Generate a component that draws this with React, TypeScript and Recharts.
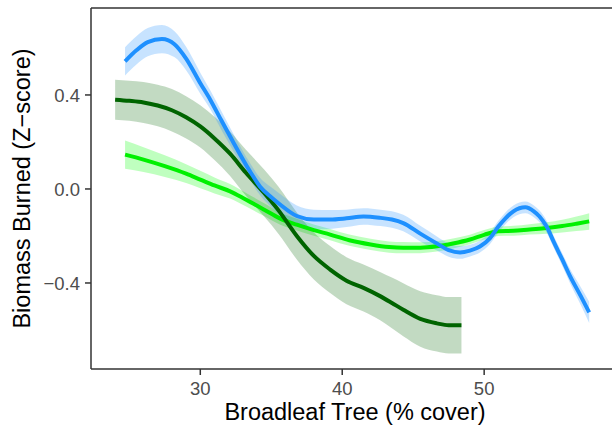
import React from "react";
import { ComposedChart, Area, Line, XAxis, YAxis, Label, ReferenceLine } from "recharts";

// Blue series (smoothed fit) — x, fit, ribbon half-width
const blueX = [24.7, 25.5, 26.3, 27.3, 28.2, 29.0, 30.0, 30.7, 31.5, 32.35, 33.5, 34.2, 35.0, 35.6, 36.8, 38.0, 39.15, 40.3, 41.5, 42.7, 43.5, 44.3, 45.5, 46.67, 47.5, 48.3, 49.0, 49.7, 50.4, 51.0, 51.5, 52.06, 52.9, 53.5, 53.9, 54.4, 54.9, 55.5, 56.06, 56.8, 57.4];
const blueY = [0.543, 0.59, 0.625, 0.638, 0.615, 0.555, 0.45, 0.38, 0.29, 0.196, 0.075, 0.011, -0.035, -0.065, -0.115, -0.13, -0.13, -0.125, -0.117, -0.123, -0.13, -0.145, -0.19, -0.232, -0.26, -0.27, -0.262, -0.245, -0.21, -0.16, -0.125, -0.095, -0.078, -0.095, -0.117, -0.16, -0.225, -0.3, -0.372, -0.455, -0.525];
const blueSE = [0.06, 0.06, 0.06, 0.06, 0.055, 0.05, 0.045, 0.04, 0.04, 0.037, 0.035, 0.037, 0.042, 0.045, 0.045, 0.042, 0.04, 0.037, 0.035, 0.035, 0.035, 0.035, 0.033, 0.03, 0.028, 0.027, 0.025, 0.025, 0.025, 0.025, 0.025, 0.025, 0.025, 0.025, 0.025, 0.025, 0.025, 0.027, 0.03, 0.038, 0.045];

// Dark green series
const darkX = [24.0, 25.0, 26.0, 27.0, 28.0, 29.0, 30.0, 31.0, 32.1, 33.2, 34.5, 35.5, 36.8, 38.0, 39.15, 40.3, 41.5, 42.7, 43.5, 44.3, 45.5, 46.67, 47.5, 48.4];
const darkY = [0.38, 0.375, 0.368, 0.355, 0.335, 0.305, 0.266, 0.215, 0.15, 0.07, -0.017, -0.09, -0.2, -0.285, -0.343, -0.39, -0.421, -0.457, -0.485, -0.514, -0.553, -0.572, -0.58, -0.58];
const darkSE = [0.085, 0.085, 0.087, 0.088, 0.09, 0.09, 0.09, 0.092, 0.095, 0.098, 0.1, 0.1, 0.1, 0.1, 0.1, 0.1, 0.1, 0.103, 0.108, 0.113, 0.118, 0.12, 0.12, 0.12];

// Lime series
const limeX = [24.7, 26.0, 27.5, 29.0, 30.0, 31.0, 32.1, 33.2, 34.5, 35.6, 36.8, 38.0, 39.15, 40.5, 42.0, 43.3, 44.3, 45.5, 46.67, 47.8, 49.0, 50.0, 51.0, 52.06, 53.2, 54.4, 55.5, 56.5, 57.4];
const limeY = [0.146, 0.125, 0.097, 0.065, 0.04, 0.015, -0.01, -0.045, -0.088, -0.125, -0.152, -0.175, -0.194, -0.218, -0.236, -0.247, -0.25, -0.25, -0.244, -0.232, -0.215, -0.195, -0.18, -0.178, -0.172, -0.166, -0.158, -0.148, -0.138];
const limeSE = [0.06, 0.053, 0.046, 0.04, 0.037, 0.034, 0.031, 0.029, 0.027, 0.026, 0.025, 0.024, 0.024, 0.024, 0.024, 0.024, 0.024, 0.023, 0.022, 0.021, 0.02, 0.02, 0.02, 0.021, 0.022, 0.024, 0.027, 0.031, 0.035];

const xTicks = [30, 40, 50];
const yTicks = [-0.4, 0, 0.4];
const xDomain = [22.3, 59.5];
const yDomain = [-0.766, 0.77];

const xTitle = "Broadleaf Tree (% cover)";
const yTitle = "Biomass Burned (Z\u2212score)";

const build = (xs: number[], ys: number[], se: number[]) =>
  xs.map((x, i) => ({ x, y: ys[i], band: [ys[i] - se[i], ys[i] + se[i]] }));

const blueData = build(blueX, blueY, blueSE);
const darkData = build(darkX, darkY, darkSE);
const limeData = build(limeX, limeY, limeSE);

const FONT = "'Liberation Sans', Arial, Helvetica, sans-serif";

const fmtY = (v: number) => {
  if (v === 0) return "0.0";
  const s = Math.abs(v).toFixed(1);
  return v < 0 ? "\u2212" + s : s;
};

export default function App() {
  return (
    <div style={{ position: "absolute", left: 0, top: 0, width: 612, height: 437, overflow: "hidden", background: "#fff" }}>
      <ComposedChart width={640} height={437} margin={{ top: 8, right: 21, left: 0, bottom: 0 }}>
        <XAxis
          dataKey="x"
          type="number"
          domain={xDomain}
          ticks={xTicks}
          allowDataOverflow
          height={68}
          tickSize={6}
          tickMargin={7}
          axisLine={{ stroke: "#333333", strokeWidth: 1.5 }}
          tickLine={{ stroke: "#333333", strokeWidth: 1.5 }}
          tick={{ fill: "#4D4D4D", fontSize: 18.5, fontFamily: FONT }}
        >
          <Label
            value={xTitle}
            position="insideBottom"
            offset={17}
            style={{ fill: "#000", fontSize: 23.5, fontFamily: FONT, textAnchor: "middle" }}
          />
        </XAxis>
        <YAxis
          type="number"
          domain={yDomain}
          ticks={yTicks}
          allowDataOverflow
          width={91}
          tickSize={6}
          tickMargin={5}
          tickFormatter={fmtY}
          axisLine={{ stroke: "#333333", strokeWidth: 1.5 }}
          tickLine={{ stroke: "#333333", strokeWidth: 1.5 }}
          tick={{ fill: "#4D4D4D", fontSize: 18.5, fontFamily: FONT }}
        >
          <Label
            value={yTitle}
            angle={-90}
            position="insideLeft"
            offset={22}
            style={{ fill: "#000", fontSize: 23.5, fontFamily: FONT, textAnchor: "middle" }}
          />
        </YAxis>

        <ReferenceLine y={yDomain[1]} stroke="#333333" strokeWidth={1.5} />

        <Area data={limeData} dataKey="band" type="monotone" stroke="none" fill="#00FF00" fillOpacity={0.25} isAnimationActive={false} activeDot={false} />
        <Line data={limeData} dataKey="y" type="monotone" stroke="#00F000" strokeWidth={4} dot={false} activeDot={false} isAnimationActive={false} />

        <Area data={darkData} dataKey="band" type="monotone" stroke="none" fill="#006400" fillOpacity={0.24} isAnimationActive={false} activeDot={false} />
        <Line data={darkData} dataKey="y" type="monotone" stroke="#006400" strokeWidth={4} dot={false} activeDot={false} isAnimationActive={false} />

        <Area data={blueData} dataKey="band" type="monotone" stroke="none" fill="#1E90FF" fillOpacity={0.25} isAnimationActive={false} activeDot={false} />
        <Line data={blueData} dataKey="y" type="monotone" stroke="#1E90FF" strokeWidth={4} dot={false} activeDot={false} isAnimationActive={false} />
      </ComposedChart>
    </div>
  );
}
